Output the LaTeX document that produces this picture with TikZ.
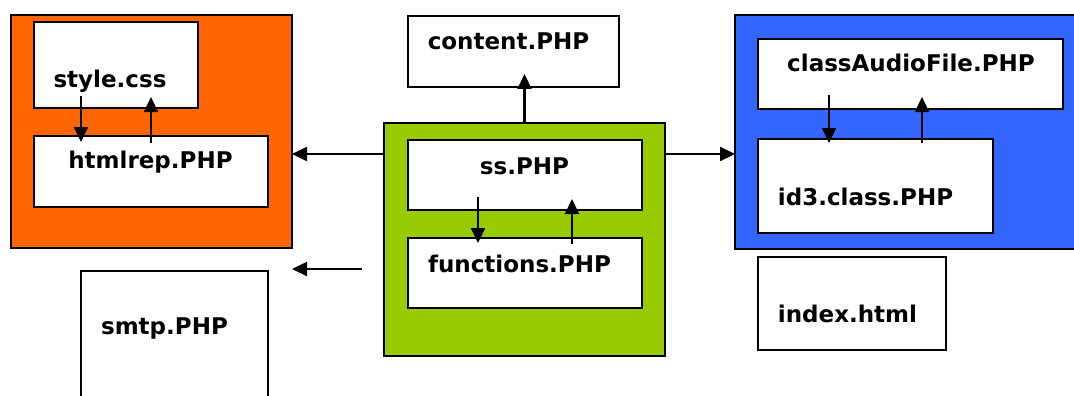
\documentclass[tikz,border=0pt]{standalone}
\usepackage{fontspec}
\setmainfont{DejaVu Sans}
\usetikzlibrary{arrows.meta,calc}
\definecolor{grporange}{RGB}{255,102,0}
\definecolor{grpgreen}{RGB}{153,204,0}
\definecolor{grpblue}{RGB}{51,102,255}
\tikzset{
  box/.style={draw=black, line width=2.2pt, fill=white, inner sep=0pt, outer sep=0pt},
  lbl/.style={anchor=base, inner sep=0pt, font=\fontsize{23}{27}\selectfont\bfseries},
  arr/.style={line width=2.2pt, -{Triangle[length=15pt,width=14pt]}}
}
\begin{document}
\begin{tikzpicture}[x=1pt,y=-1pt]
\clip (0,0) rectangle (1074,396);
\useasboundingbox (0,0) rectangle (1074,396);
% groups
\node[box, fill=grporange, minimum width=281pt, minimum height=233pt] (grp1) at (151.5,131.5) {};
\node[box, fill=grpgreen, minimum width=281pt, minimum height=233pt] (grp2) at (524.5,239.5) {};
\node[box, fill=grpblue, minimum width=355pt, minimum height=234pt] (grp3) at (912.5,132) {};
% boxes
\node[box, minimum width=164pt, minimum height=86pt] (style) at (116,65) {};
\node[box, minimum width=234pt, minimum height=71pt] (htmlrep) at (151,171.5) {};
\node[box, minimum width=211pt, minimum height=71pt] (content) at (513.5,51.5) {};
\node[box, minimum width=234pt, minimum height=70pt] (ss) at (525,175) {};
\node[box, minimum width=234pt, minimum height=70pt] (functions) at (525,273) {};
\node[box, minimum width=305pt, minimum height=70pt] (audio) at (910.5,74) {};
\node[box, minimum width=235pt, minimum height=94pt] (id3) at (875.5,186) {};
\node[box, minimum width=188pt, minimum height=93pt] (index) at (852,303.5) {};
\node[box, minimum width=187pt, minimum height=139pt] (smtp) at (174.5,340.5) {};
% labels
\node[lbl] (styleT) at (110,88) {style.css};
\node[lbl] (htmlrepT) at (150.5,168) {htmlrep.PHP};
\node[lbl] (contentT) at (508.5,50) {content.PHP};
\node[lbl] (ssT) at (524.5,174) {ss.PHP};
\node[lbl] (functionsT) at (519.5,272) {functions.PHP};
\node[lbl] (audioT) at (911,72) {classAudioFile.PHP};
\node[lbl] (id3T) at (865.5,205) {id3.class.PHP};
\node[lbl] (indexT) at (847.5,322) {index.html};
\node[lbl] (smtpT) at (164.5,334) {smtp.PHP};
% connectors between groups
\coordinate (yL) at (0,154);
\coordinate (f1) at (362,269);
\draw[arr] (grp2.west |- yL) -- (grp1.east |- yL);
\draw[arr] (grp2.east |- yL) -- (grp3.west |- yL);
\draw[arr] (grp2.north) -- ($(grp2.north |- content.south)+(0,-13)$);
\draw[arr] (f1) -- (grp1.east |- f1);
% inner connectors
\draw[arr] ($(style.south west)+(47,-12)$) -- ($(htmlrep.north west)+(47,6)$);
\draw[arr] ($(htmlrep.north west)+(117,7)$) -- ($(style.south west)+(117,-11)$);
\draw[arr] ($(ss.south west)+(70,-13)$) -- ($(functions.north west)+(70,5)$);
\draw[arr] ($(functions.north west)+(164,6)$) -- ($(ss.south west)+(164,-11)$);
\draw[arr] ($(audio.south west)+(71,-14)$) -- ($(id3.north west)+(71,4)$);
\draw[arr] ($(id3.north west)+(164,4)$) -- ($(audio.south west)+(164,-12)$);
\end{tikzpicture}
\end{document}
